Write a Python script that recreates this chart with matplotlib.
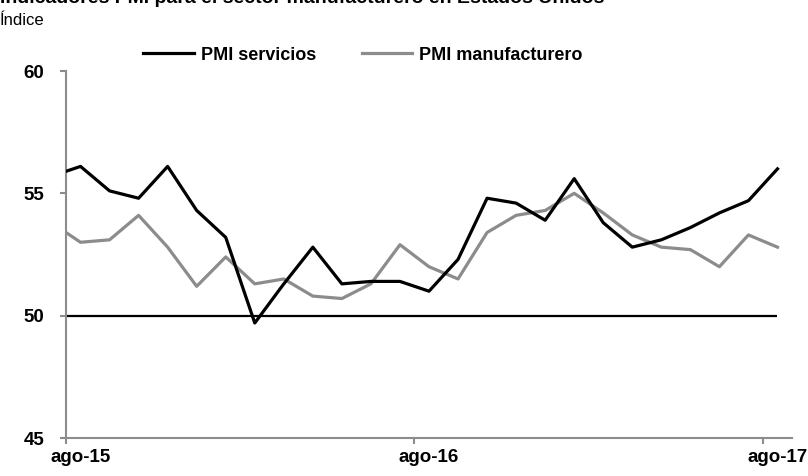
import matplotlib
matplotlib.use("Agg")
import matplotlib.pyplot as plt
from matplotlib import font_manager

names = {f.name for f in font_manager.fontManager.ttflist}
narrow = "Liberation Sans Narrow" if "Liberation Sans Narrow" in names else "Liberation Sans"
plt.rcParams['font.family'] = [narrow, 'DejaVu Sans']

# Data (monthly, jul-15 .. ago-17)
months = ["jul-15", "ago-15", "sep-15", "oct-15", "nov-15", "dic-15", "ene-16", "feb-16",
          "mar-16", "abr-16", "may-16", "jun-16", "jul-16", "ago-16", "sep-16", "oct-16",
          "nov-16", "dic-16", "ene-17", "feb-17", "mar-17", "abr-17", "may-17", "jun-17",
          "jul-17", "ago-17"]
pmi_servicios = [55.7, 56.1, 55.1, 54.8, 56.1, 54.3, 53.2, 49.7, 51.3, 52.8, 51.3, 51.4, 51.4,
                 51.0, 52.3, 54.8, 54.6, 53.9, 55.6, 53.8, 52.8, 53.1, 53.6, 54.2, 54.7, 56.0]
pmi_manufacturero = [53.8, 53.0, 53.1, 54.1, 52.8, 51.2, 52.4, 51.3, 51.5, 50.8, 50.7, 51.3, 52.9,
                     52.0, 51.5, 53.4, 54.1, 54.3, 55.0, 54.2, 53.3, 52.8, 52.7, 52.0, 53.3, 52.8]
umbral = [50] * len(months)
tick_labels = ["ago-15", "ago-16", "ago-17"]
yticks = [45, 50, 55, 60]

x = [i - 1 for i in range(len(months))]  # ago-15 -> 0

fig = plt.figure(figsize=(8.08, 4.76), dpi=100)
ax = fig.add_axes([66/808, 1 - 438/476, (792-66)/808, (438-71)/476])

ax.plot(x, umbral, color='black', lw=1.6, zorder=2, solid_capstyle='butt')
ax.plot(x, pmi_manufacturero, color='#8c8c8c', lw=2.3, label='PMI manufacturero', zorder=3)
ax.plot(x, pmi_servicios, color='black', lw=2.3, label='PMI servicios', zorder=4)

ax.set_xlim(-0.5, 24.5)
ax.set_ylim(45, 60)

for s in ['top', 'right']:
    ax.spines[s].set_visible(False)
for s in ['left', 'bottom']:
    ax.spines[s].set_color('#8c8c8c')
    ax.spines[s].set_linewidth(1.5)

ax.set_yticks(yticks)
ax.set_yticklabels([str(v) for v in yticks], fontsize=13.5, fontweight='bold')
ax.tick_params(axis='y', direction='out', length=4.5, width=1.5, color='#8c8c8c', pad=11)

label_pos = [months.index(t) - 1 for t in tick_labels]
ax.set_xticks(label_pos)
ax.set_xticklabels(tick_labels, fontsize=13.5, fontweight='bold')
ax.tick_params(axis='x', which='major', length=0, pad=8)
ax.set_xticks([p - 0.5 for p in label_pos], minor=True)
ax.tick_params(axis='x', which='minor', direction='out', length=4.5, width=1.5, color='#8c8c8c')

h, l = ax.get_legend_handles_labels()
leg = fig.legend(h[::-1], l[::-1], loc='center', bbox_to_anchor=(363/808, 1 - 55/476), ncol=2,
                 frameon=False, prop={'weight': 'bold', 'size': 13},
                 handlelength=2.8, handletextpad=0.4, columnspacing=2.5)

fig.text(0.0, 1 - 3/476, "Indicadores PMI para el sector manufacturero en Estados Unidos",
         fontsize=14, fontweight='bold', va='baseline', ha='left')
fig.text(0.0, 1 - 25/476, "Índice", fontsize=12, va='baseline', ha='left')

fig.savefig("out.png", dpi=100)
